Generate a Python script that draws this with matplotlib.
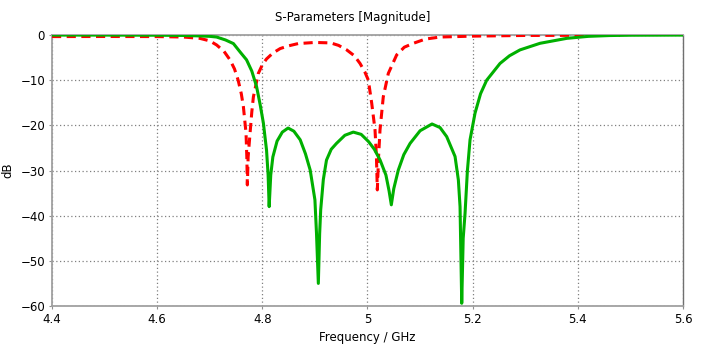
import matplotlib
matplotlib.use("Agg")
import matplotlib.pyplot as plt

# S21 (green, solid)
f21 = [4.40, 4.50, 4.60, 4.65, 4.68, 4.70, 4.713, 4.73, 4.745, 4.758, 4.770,
       4.780, 4.789, 4.796, 4.802, 4.808, 4.811, 4.813, 4.816, 4.820, 4.828,
       4.838, 4.849, 4.860, 4.872, 4.882, 4.891, 4.900, 4.903, 4.9065, 4.909,
       4.911, 4.916, 4.922, 4.931, 4.941, 4.957, 4.973, 4.988, 5.002, 5.013,
       5.024, 5.035, 5.041, 5.0453, 5.050, 5.0586, 5.069, 5.081, 5.100, 5.1227,
       5.138, 5.1506, 5.1665, 5.1728, 5.176, 5.1792, 5.182, 5.1855, 5.190,
       5.195, 5.2045, 5.215, 5.2267, 5.252, 5.27, 5.29, 5.328, 5.379, 5.42,
       5.46, 5.50, 5.60]
s21 = [-0.02, -0.02, -0.05, -0.1, -0.2, -0.3, -0.45, -1.1, -1.9, -3.8, -5.5,
       -8.0, -11.4, -15.5, -19.5, -25.5, -31.0, -38.0, -31.0, -27.0, -23.5,
       -21.5, -20.6, -21.3, -23.2, -26.3, -29.9, -36.5, -43.9, -55.0, -44.0,
       -38.7, -32.0, -27.7, -25.3, -24.0, -22.2, -21.5, -22.0, -23.6, -25.3,
       -27.7, -31.0, -34.5, -37.6, -34.0, -29.9, -26.5, -24.0, -21.2, -19.7,
       -20.5, -22.5, -26.9, -32.1, -38.0, -59.4, -45.0, -39.5, -30.0,
       -23.2, -17.3, -13.0, -10.0, -6.3, -4.6, -3.3, -1.84, -0.74, -0.3,
       -0.12, -0.05, -0.02]

# S11 (red, dashed)
f11 = [4.40, 4.50, 4.60, 4.65, 4.681, 4.70, 4.713, 4.727, 4.7385, 4.747,
       4.754, 4.760, 4.764, 4.769, 4.7705, 4.7715, 4.773, 4.7766, 4.780,
       4.783, 4.7924, 4.800, 4.808, 4.820, 4.834, 4.850, 4.868, 4.90, 4.93,
       4.945, 4.9605, 4.975, 4.9858, 4.995, 5.0016, 5.008, 5.0143, 5.017,
       5.0187, 5.021, 5.0238, 5.030, 5.0396, 5.0555, 5.070, 5.0872, 5.11,
       5.138, 5.20, 5.30, 5.48]
s11 = [-0.35, -0.33, -0.35, -0.45, -0.74, -1.3, -2.2, -3.6, -5.5, -7.5,
       -10.0, -13.0, -15.9, -21.7, -27.0, -33.2, -27.0, -21.8, -17.0,
       -13.7, -8.5, -6.6, -5.3, -4.0, -3.0, -2.4, -1.9, -1.65, -1.75,
       -2.3, -3.3, -4.6, -6.3, -8.2, -10.0, -15.1, -21.0, -27.0,
       -34.3, -27.0, -21.0, -13.7, -8.5, -4.4, -2.7, -1.84, -0.9,
       -0.45, -0.25, -0.1, -0.05]

xticks = [4.4, 4.6, 4.8, 5.0, 5.2, 5.4, 5.6]
xtick_labels = ["4.4", "4.6", "4.8", "5", "5.2", "5.4", "5.6"]
yticks = [0, -10, -20, -30, -40, -50, -60]

plt.rcParams['font.family'] = ['DejaVu Sans']

fig = plt.figure(figsize=(7.06, 3.49), dpi=100)
ax = fig.add_axes([52/706, 1-306/349, (683-52)/706, (306-35)/349])

ax.plot(f11, s11, color='#ff0000', lw=2.2, dashes=(3, 1.8), zorder=3)
ax.plot(f21, s21, color='#00b000', lw=2.2, zorder=4)

ax.set_xlim(4.4, 5.6)
ax.set_ylim(-60, 0)
ax.set_xticks(xticks)
ax.set_xticklabels(xtick_labels)
ax.set_yticks(yticks)
ax.tick_params(labelsize=8.5, length=2, color='#909090', pad=3)
ax.grid(True, color='#808080', linestyle=(0, (1, 2)), lw=0.9)

for s in ['left', 'bottom', 'top']:
    ax.spines[s].set_color('#a0a0a0')
    ax.spines[s].set_linewidth(1.3)
ax.spines['right'].set_color('#707070')
ax.spines['right'].set_linewidth(1.0)

fig.text(0.5, 1-17/349, "S-Parameters [Magnitude]", ha='center', va='center', fontsize=8.5)
ax.set_xlabel("Frequency / GHz", fontsize=8.5, labelpad=4)
ax.set_ylabel("dB", fontsize=8.5)
ax.yaxis.set_label_coords(-38/631, 0.5)

fig.savefig("out.png", dpi=100)
